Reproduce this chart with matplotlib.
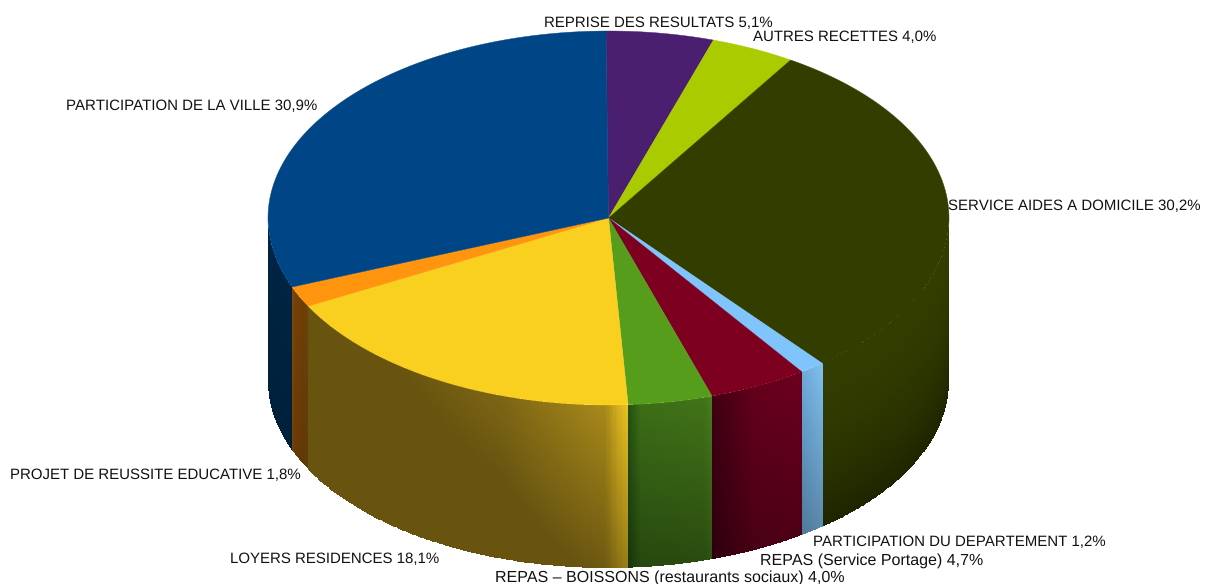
import numpy as np
import matplotlib
matplotlib.use('Agg')
import matplotlib.pyplot as plt
from matplotlib.patches import Polygon

# parts in percent, clockwise from the top
categories = ['REPRISE DES RESULTATS', 'AUTRES RECETTES', 'SERVICE AIDES A DOMICILE',
              'PARTICIPATION DU DEPARTEMENT', 'REPAS (Service Portage)',
              'REPAS \u2013 BOISSONS (restaurants sociaux)', 'LOYERS RESIDENCES',
              'PROJET DE REUSSITE EDUCATIVE', 'PARTICIPATION DE LA VILLE']
values = [5.1, 4.0, 30.2, 1.2, 4.7, 4.0, 18.1, 1.8, 30.9]
value_labels = ['5,1%', '4,0%', '30,2%', '1,2%', '4,7%', '4,0%', '18,1%', '1,8%', '30,9%']

colors = ['#4b1f6f', '#aacb00', '#333d00', '#7fc4fb', '#7e0021',
          '#579d1c', '#fad020', '#ff950e', '#004586']

# wall colour across each slice, position 0 is the clockwise start
wall_stops = {
    2: [(0.0, (51, 61, 0)), (1.0, (51, 61, 0))],
    3: [(0.0, (128, 192, 240)), (1.0, (108, 168, 215))],
    4: [(0.0, (108, 0, 30)), (0.55, (100, 0, 28)), (1.0, (62, 0, 18))],
    5: [(0.0, (72, 125, 28)), (0.1, (65, 115, 25)), (0.85, (60, 110, 22)), (1.0, (36, 80, 16))],
    6: [(0.0, (235, 195, 35)), (0.025, (215, 175, 30)), (0.06, (168, 137, 26)),
        (0.33, (125, 102, 20)), (0.63, (104, 84, 14)), (1.0, (104, 84, 14))],
    7: [(0.0, (100, 70, 12)), (0.25, (110, 62, 6)), (0.75, (115, 65, 8)), (1.0, (130, 72, 10))],
    8: [(0.0, (0, 36, 66)), (1.0, (0, 36, 66))],
}
wall_bottom = {2: 0.6, 3: 0.72, 4: 0.72, 5: 0.65, 6: 0.65, 7: 0.9, 8: 0.9}
wall_gamma = {2: 1.8}
wall_floor = {6: (104, 84, 14)}

cx, cy, rx, ry, depth = 608.5, 218, 340.5, 187, 163
start_angle = -0.42

label_pos = [(544, 22), (753, 36), (948, 205), (813, 541), (760, 559),
             (495, 576), (230, 558), (10, 474), (66, 105)]
# capitals are set tighter in the original, so each label gets its own size
label_size = [11.0, 10.85, 11.05, 10.87, 11.5, 11.7, 11.0, 10.7, 10.95]

plt.rcParams['font.family'] = ['Liberation Sans', 'DejaVu Sans']
plt.rcParams['text.hinting'] = 'no_hinting'
plt.rcParams['text.hinting_factor'] = 1

fig = plt.figure(figsize=(12.13, 5.84), dpi=100)
ax = fig.add_axes([0, 0, 1, 1])
ax.set_xlim(0, 1213)
ax.set_ylim(584, 0)
ax.axis('off')

edges = np.radians(np.concatenate([[0], np.cumsum(values)]) * 3.6 + start_angle)


def ell_x(t):
    return cx + rx * np.sin(t)


def ell_y(t):
    return cy - ry * np.cos(t)


# side walls, only the front half of the ellipse shows
for i in wall_stops:
    t0 = max(edges[i], np.pi / 2)
    t1 = min(edges[i + 1], 3 * np.pi / 2)
    t = np.linspace(t0, t1, 160)
    v = np.linspace(0, 1, 60)
    X = np.tile(ell_x(t), (len(v), 1))
    Y = ell_y(t)[None, :] + v[:, None] * depth
    u = (0.5 * (t[:-1] + t[1:]) - t0) / (t1 - t0)
    vm = 0.5 * (v[:-1] + v[1:])
    pos = [s[0] for s in wall_stops[i]]
    rgb = np.array([s[1] for s in wall_stops[i]], dtype=float) / 255
    row = np.stack([np.interp(u, pos, rgb[:, k]) for k in range(3)], axis=1)
    fade = 1 - (1 - wall_bottom[i]) * vm[:, None, None] ** wall_gamma.get(i, 1)
    cells = row[None, :, :] * fade
    if i in wall_floor:
        cells = np.maximum(cells, np.array(wall_floor[i]) / 255)
    ax.pcolormesh(X, Y, cells, shading='flat', zorder=1)

# top face
for i, c in enumerate(colors):
    t = np.linspace(edges[i], edges[i + 1], 120)
    pts = np.column_stack([np.r_[cx, ell_x(t)], np.r_[cy, ell_y(t)]])
    ax.add_patch(Polygon(pts, closed=True, facecolor=c, edgecolor=c, lw=0.3, zorder=2))

for name, val, (x, y), size in zip(categories, value_labels, label_pos, label_size):
    ax.text(x, y + 1.5, name + ' ' + val, fontsize=size, color='#111111',
            ha='left', va='center', zorder=3)

fig.savefig('out.png', dpi=100, facecolor='white')
